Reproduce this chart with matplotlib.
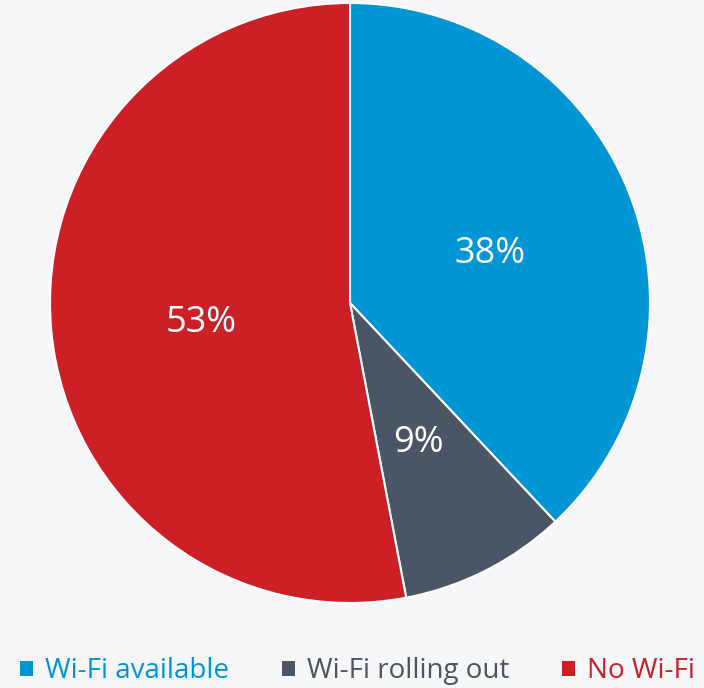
import matplotlib
matplotlib.use("Agg")
import matplotlib.pyplot as plt
import matplotlib.transforms as mtransforms

categories = ["Wi-Fi available", "Wi-Fi rolling out", "No Wi-Fi"]
values = [38, 9, 53]
colors = ["#0096d6", "#4a5566", "#cc1f26"]
bg = "#f7f7f9"

plt.rcParams['font.family'] = ['Open Sans', 'DejaVu Sans']

fig = plt.figure(figsize=(7.04, 6.88), dpi=100, facecolor=bg)
ax = fig.add_axes([50/704, (688-603)/688, 600/704, 600/688])
ax.set_facecolor(bg)
wedges, texts, autotexts = ax.pie(
    values, colors=colors, startangle=90, counterclock=False,
    autopct=lambda p: f"{p:.0f}%", pctdistance=0.5,
    wedgeprops=dict(edgecolor="white", linewidth=1.5),
    textprops=dict(color="white", fontsize=26),
)
for t in autotexts:
    t.set_transform(t.get_transform() + mtransforms.ScaledTranslation(0, -6/100, fig.dpi_scale_trans))
ax.set_xlim(-1, 1)
ax.set_ylim(-1, 1)
ax.set_aspect("equal")
ax.axis("off")

leg = fig.legend(wedges, categories, loc="lower center", bbox_to_anchor=(0.508, -0.02),
                 ncol=3, frameon=False, handlelength=0.45, handleheight=0.45,
                 handletextpad=0.45, columnspacing=1.9, borderaxespad=0.2,
                 prop=dict(family=['Open Sans', 'DejaVu Sans'], size=20))
for t, c in zip(leg.get_texts(), colors):
    t.set_color(c)
for h in leg.legend_handles:
    h.set_edgecolor("none")

fig.savefig("out.png", dpi=100, facecolor=bg)
